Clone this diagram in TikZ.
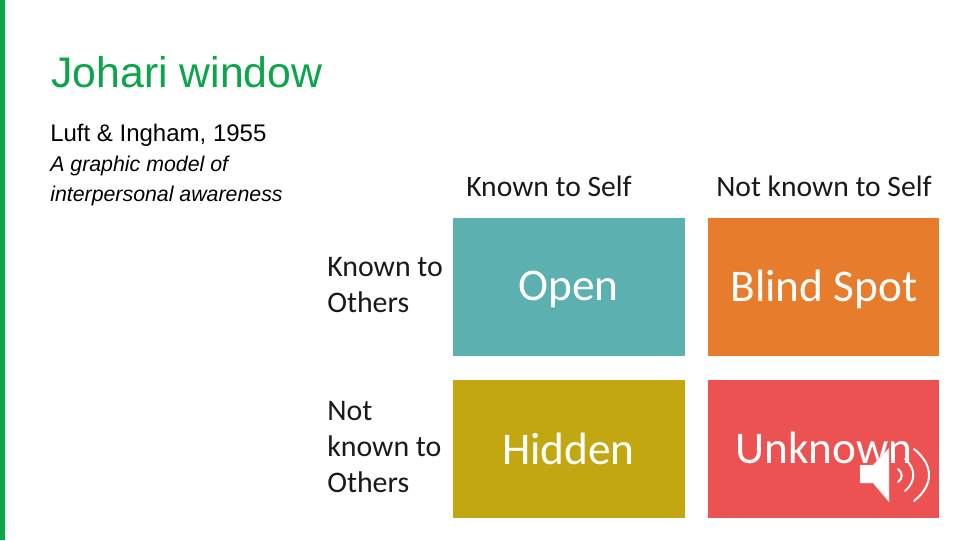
\documentclass[tikz,border=0pt]{standalone}
\usepackage{fontspec}
\setmainfont{Liberation Sans}
\newfontfamily\labelfont{Carlito}
\definecolor{slidegreen}{HTML}{0BA54A}
\definecolor{opencol}{HTML}{5CB0B0}
\definecolor{blindcol}{HTML}{E67C2C}
\definecolor{hiddencol}{HTML}{C2A711}
\definecolor{unknowncol}{HTML}{EC5252}
\tikzset{
  pane/.style={minimum width=173.6pt,minimum height=103.5pt,inner sep=0pt},
  panetext/.style={inner sep=0pt,text=white,font=\labelfont\fontsize{34}{40}\selectfont},
  side/.style={anchor=west,align=left,inner sep=0pt,font=\labelfont\fontsize{22.4}{27}\selectfont,text=black!90},
  head/.style={inner sep=0pt,font=\labelfont\fontsize{22.2}{25}\selectfont,text=black!90},
  plain/.style={anchor=base west,inner sep=0pt},
  wave/.style={draw=white,line width=1.5pt,line cap=round}
}
\begin{document}
\begin{tikzpicture}[x=0.75pt,y=-0.75pt]
\useasboundingbox (0,0) rectangle (960,540);
\fill[slidegreen] (0,0) rectangle (5,540);
\node[plain,text=slidegreen,font=\fontsize{32.1}{36}\selectfont] (title) at (51,87) {Johari window};
\node[plain,font=\fontsize{18}{22}\selectfont] (authors) at (50,141) {Luft \& Ingham, 1955};
\node[plain,font=\itshape\fontsize{16}{18}\selectfont] (modela) at (50,171.5) {A graphic model of};
\node[plain,font=\itshape\fontsize{16}{18}\selectfont] (modelb) at (50,201) {interpersonal awareness};
% the four panes
\node[pane,fill=opencol] (open) at (569,287) {};
\node[pane,fill=blindcol] (blind) at (823.5,287) {};
\node[pane,fill=hiddencol] (hidden) at (569,449) {};
\node[pane,fill=unknowncol] (unknown) at (823.5,449) {};
\node[panetext] (opentext) at (568.5,289) {Open};
\node[panetext] (blindtext) at (824,289) {Blind Spot};
\node[panetext] (hiddentext) at (568.5,449) {Hidden};
\node[panetext] (unknowntext) at (824,447.5) {Unknown};
\node[head] (self) at (549,186) {Known to Self};
\node[head] (notself) at (824,186) {Not known to Self};
\node[side] (others) at (327,285) {Known to\\Others};
\node[side] (notothers) at (327,447) {Not\\known to\\Others};
% speaker icon
\fill[white,draw=black!25,line width=0.3pt] (860,465) -- (873,465) -- (889,448) -- (889,502) -- (873,483) -- (860,483) -- cycle;
\draw[wave] (898,469) .. controls (903,473) and (903,478) .. (898,482);
\draw[wave] (905,459) .. controls (916,468) and (916,482) .. (905,491);
\draw[wave] (914,449) .. controls (934,465) and (934,485) .. (914,501);
\end{tikzpicture}
\end{document}
